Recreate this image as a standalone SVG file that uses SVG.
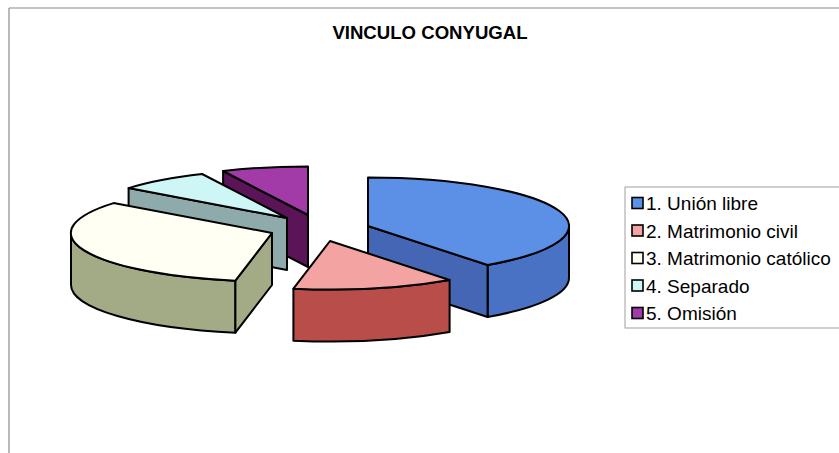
<svg xmlns="http://www.w3.org/2000/svg" width="839" height="453" viewBox="0 0 839 453">
<style>
.edge{stroke:#000;stroke-width:2;stroke-linejoin:round}
.t{font-family:"Liberation Sans",Arial,sans-serif;fill:#000}
.lg{font-size:19px}
.sq{stroke:#000;stroke-width:1.6}
</style>
<rect x="0" y="0" width="839" height="453" fill="#fff"/>
<g id="frame" fill="none" stroke="#8a8a8a" stroke-width="1.2">
<line x1="9" y1="8" x2="839" y2="8"/>
<line x1="9" y1="8" x2="9" y2="453"/>
</g>
<text class="t" x="430" y="39" font-size="18.6" font-weight="bold" text-anchor="middle">VINCULO CONYUGAL</text>
<g id="pie">
<g id="slice-omision">
<path class="edge" fill="#5b1458" d="M308,215 L223.1,171 L223.1,223 L308,267 Z"/>
<path class="edge" fill="#a23ba8" d="M308,215 L223.1,171 A201 48.5 0 0 1 308,166.5 Z"/>
</g>
<g id="slice-separado">
<path class="edge" fill="#8eaaaa" d="M287,218 L128.6,188.1 L128.6,240.1 L287,270 Z"/>
<path class="edge" fill="#cff6f7" d="M287,218 L128.6,188.1 A201 48.5 0 0 1 202.1,174 Z"/>
</g>
<g id="slice-union-libre">
<path class="edge" fill="#4a72c4" d="M569,226 A201 48.5 0 0 1 487.6,265 L487.6,317 A201 48.5 0 0 0 569,278 Z"/>
<path class="edge" fill="#4466b4" d="M368,226 L487.6,265 L487.6,317 L368,278 Z"/>
<path class="edge" fill="#5c8fe6" d="M368,226 L368,177.5 A201 48.5 0 0 1 487.6,265 Z"/>
</g>
<g id="slice-catolico">
<path class="edge" fill="#a3ab86" d="M235.4,280.7 A201 48.5 0 0 1 71,233 L71,285 A201 48.5 0 0 0 235.4,332.7 Z"/>
<path class="edge" fill="#a3ab86" d="M272,233 L235.4,280.7 L235.4,332.7 L272,285 Z"/>
<path class="edge" fill="#fffff4" d="M272,233 L235.4,280.7 A201 48.5 0 0 1 113.6,203.1 Z"/>
</g>
<g id="slice-civil">
<path class="edge" fill="#b84d4a" d="M449.6,280 A201 48.5 0 0 1 293.4,288.7 L293.4,340.7 A201 48.5 0 0 0 449.6,332 Z"/>
<path class="edge" fill="#f4a3a3" d="M330,241 L449.6,280 A201 48.5 0 0 1 293.4,288.7 Z"/>
</g>
</g>
<g id="legend">
<rect x="625" y="187" width="230" height="141" fill="#fff" stroke="#a0a0a0" stroke-width="1"/>
<rect class="sq" x="632" y="197.5" width="11" height="11" fill="#5c8fe6"/>
<text class="t lg" x="646" y="210">1. Unión libre</text>
<rect class="sq" x="632" y="225" width="11" height="11" fill="#f4a3a3"/>
<text class="t lg" x="646" y="237.5">2. Matrimonio civil</text>
<rect class="sq" x="632" y="252.5" width="11" height="11" fill="#fffff4"/>
<text class="t lg" x="646" y="265">3. Matrimonio católico</text>
<rect class="sq" x="632" y="280" width="11" height="11" fill="#cff6f7"/>
<text class="t lg" x="646" y="292.5">4. Separado</text>
<rect class="sq" x="632" y="307.5" width="11" height="11" fill="#a23ba8"/>
<text class="t lg" x="646" y="320">5. Omisión</text>
</g>
</svg>
